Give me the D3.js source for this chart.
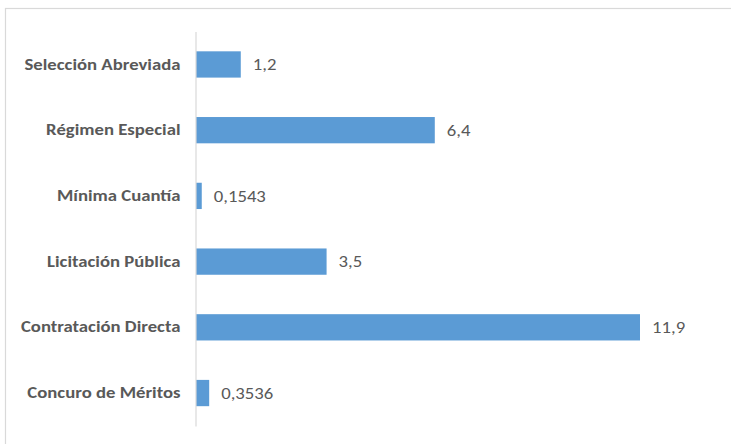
<!DOCTYPE html>
<html><head><meta charset="utf-8">
<script src="https://cdn.jsdelivr.net/npm/d3@7"></script>
<style>body{margin:0;background:#fff}svg{display:block}</style>
</head><body>
<svg id="c" width="731" height="444"></svg>
<script>
const categories = ["Selección Abreviada","Régimen Especial","Mínima Cuantía","Licitación Pública","Contratación Directa","Concuro de Méritos"];
const values = [1.2, 6.4, 0.1543, 3.5, 11.9, 0.3536];
const valueLabels = ["1,2","6,4","0,1543","3,5","11,9","0,3536"];

const svg = d3.select("#c");
const font = "Carlito, Lato, 'Liberation Sans', sans-serif";
const sx = 1.17;
svg.append("rect").attr("x",5.5).attr("y",8.5).attr("width",740).attr("height",450)
  .attr("fill","#fff").attr("stroke","#d9d9d9").attr("stroke-width",1.2);

const x = d3.scaleLinear().domain([0, 11.9]).range([196, 640]);
const y = d3.scaleBand().domain(categories).range([31.6, 425.9]).paddingInner(0.6).paddingOuter(0.3);

svg.selectAll("rect.bar").data(values).join("rect").attr("class","bar")
  .attr("x", x(0)).attr("y",(d,i)=>y(categories[i]))
  .attr("width", d=>x(d)-x(0)).attr("height", y.bandwidth())
  .attr("fill","#5b9bd5");

svg.selectAll("text.val").data(values).join("text").attr("class","val")
  .attr("transform",(d,i)=>`translate(${x(d)+12},${y(categories[i])+y.bandwidth()/2}) scale(${sx},1)`)
  .attr("dy","0.35em").attr("font-family",font).attr("font-size",16)
  .attr("fill","#595959").text((d,i)=>valueLabels[i]);

const ax = svg.append("g").attr("transform","translate(195.5,0)")
  .call(d3.axisLeft(y).tickSize(0).tickPadding(15));
ax.select(".domain").attr("stroke","#d9d9d9").attr("stroke-width",1.2);
ax.selectAll(".tick text")
  .attr("transform",`translate(-15,0) scale(${sx},1)`).attr("x",0)
  .attr("font-family",font).attr("font-size",16).attr("font-weight","bold").attr("fill","#595959");
</script>
</body></html>
